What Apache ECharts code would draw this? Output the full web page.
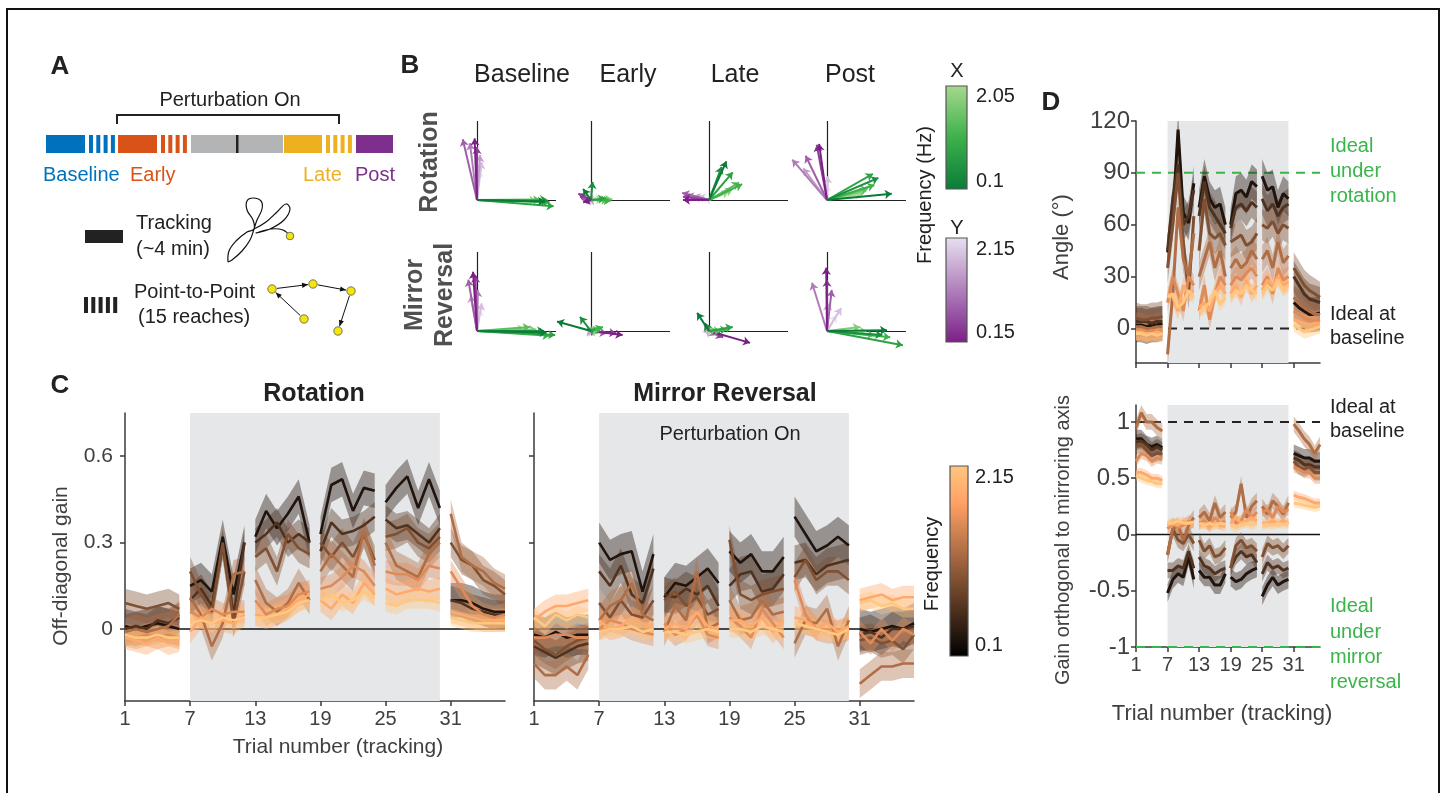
<!DOCTYPE html>
<html lang="en">
<head>
<meta charset="UTF-8">
<title>Tracking gains under rotation and mirror reversal</title>
<style>
  html, body { margin: 0; padding: 0; background: #fff; }
  #main { width: 1444px; height: 793px; }
</style>
</head>
<body>
<div id="main"></div>
<script src="https://cdn.jsdelivr.net/npm/echarts@6.0.0/dist/echarts.min.js"></script>
<script>
// ---- data -----------------------------------------------------------------
// trials 1..36, six blocks of six tracking trials; perturbation on for 7..30
var trials = [1, 2, 3, 4, 5, 6, 7, 8, 9, 10, 11, 12, 13, 14, 15, 16, 17, 18,
              19, 20, 21, 22, 23, 24, 25, 26, 27, 28, 29, 30, 31, 32, 33, 34, 35, 36];
var blockLen = 6;
var tickTrials = [1, 7, 13, 19, 25, 31];
var perturbOn = [7, 30];

// C: off-diagonal gain, rotation (rows = frequency, low -> high)
var rotationGain = [
  [0.01, 0.00, 0.01, 0.02, 0.01, 0.00,  0.15, 0.17, 0.13, 0.32, 0.12, 0.30,  0.32, 0.41, 0.35, 0.40, 0.46, 0.30,  0.33, 0.50, 0.52, 0.41, 0.49, 0.48,  0.44, 0.49, 0.53, 0.42, 0.52, 0.42,  0.10, 0.10, 0.09, 0.07, 0.06, 0.06],
  [0.00, 0.01, 0.00, 0.03, 0.02, 0.04,  0.10, 0.14, 0.08, 0.29, 0.05, 0.30,  0.30, 0.33, 0.37, 0.30, 0.33, 0.30,  0.27, 0.37, 0.33, 0.34, 0.36, 0.39,  0.38, 0.35, 0.36, 0.33, 0.30, 0.35,  0.10, 0.09, 0.07, 0.06, 0.05, 0.05],
  [0.09, 0.08, 0.07, 0.08, 0.09, 0.07,  0.20, 0.12, 0.06, 0.30, 0.02, 0.20,  0.25, 0.28, 0.20, 0.33, 0.28, 0.26,  0.30, 0.25, 0.30, 0.25, 0.33, 0.24,  0.32, 0.33, 0.35, 0.30, 0.28, 0.32,  0.30, 0.24, 0.22, 0.17, 0.15, 0.12],
  [-0.01, 0.00, -0.01, 0.00, 0.01, 0.05, 0.11, 0.05, -0.06, 0.02, 0.19, 0.20, 0.17, 0.09, 0.06, 0.09, 0.16, 0.10,  0.20, 0.26, 0.22, 0.18, 0.34, 0.22,  0.30, 0.22, 0.20, 0.18, 0.26, 0.30,  0.40, 0.25, 0.22, 0.20, 0.16, 0.14],
  [-0.02, -0.03, -0.02, -0.03, -0.02, -0.03, 0.06, 0.04, 0.07, 0.05, 0.06, 0.06, 0.10, 0.05, 0.07, 0.08, 0.12, 0.13, 0.14, 0.15, 0.18, 0.22, 0.20, 0.15, 0.20, 0.19, 0.19, 0.17, 0.22, 0.21, 0.20, 0.14, 0.08, 0.05, 0.04, 0.05],
  [-0.03, -0.04, -0.05, -0.03, -0.05, -0.04, -0.01, 0.04, 0.02, 0.03, 0.02, 0.05, 0.05, 0.04, 0.05, 0.07, 0.10, 0.12, 0.10, 0.07, 0.12, 0.09, 0.16, 0.12, 0.14, 0.12, 0.13, 0.14, 0.13, 0.14, 0.06, 0.05, 0.04, 0.03, 0.03, 0.03],
  [-0.02, -0.03, -0.03, -0.02, -0.03, -0.03, 0.02, 0.03, 0.02, 0.04, 0.03, 0.04, 0.04, 0.04, 0.05, 0.06, 0.09, 0.10, 0.10, 0.12, 0.09, 0.10, 0.13, 0.11, 0.09, 0.08, 0.10, 0.10, 0.10, 0.09, 0.04, 0.03, 0.02, 0.02, 0.02, 0.02]
];
var rotationErr = [0.06, 0.05, 0.05, 0.05, 0.04, 0.04, 0.03];

// C: off-diagonal gain, mirror reversal
var mirrorGain = [
  [-0.02, -0.03, -0.01, -0.03, -0.02, -0.02, 0.30, 0.24, 0.26, 0.27, 0.13, 0.26, 0.11, 0.16, 0.15, 0.18, 0.21, 0.16, 0.27, 0.23, 0.26, 0.20, 0.20, 0.25, 0.39, 0.33, 0.27, 0.29, 0.32, 0.29, 0.00, -0.01, 0.00, 0.01, 0.00, 0.02],
  [-0.06, -0.08, -0.10, -0.08, -0.06, -0.05, 0.20, 0.15, 0.22, 0.12, 0.09, 0.21, 0.12, 0.11, 0.14, 0.12, 0.15, 0.08, 0.15, 0.19, 0.20, 0.13, 0.14, 0.19, 0.23, 0.24, 0.19, 0.22, 0.23, 0.24, -0.02, -0.01, -0.03, 0.00, 0.00, 0.01],
  [-0.04, -0.07, -0.09, -0.06, -0.04, -0.03, 0.09, 0.04, 0.10, 0.05, 0.04, 0.10, 0.10, 0.13, 0.08, 0.11, 0.05, 0.07, 0.31, 0.12, 0.10, 0.12, 0.13, 0.14, 0.18, 0.24, 0.17, 0.20, 0.20, 0.17, -0.04, -0.03, -0.05, -0.04, -0.07, -0.02],
  [-0.12, -0.16, -0.16, -0.13, -0.16, -0.09, 0.03, 0.08, 0.10, 0.16, 0.05, 0.03, -0.01, 0.08, 0.03, 0.20, 0.00, 0.02, 0.10, 0.03, 0.04, 0.10, 0.05, 0.06, -0.05, 0.03, 0.02, 0.07, -0.06, 0.03, -0.19, -0.16, -0.13, -0.13, -0.12, -0.12],
  [-0.03, -0.03, -0.02, -0.02, -0.03, -0.03, 0.00, 0.03, 0.02, 0.00, -0.01, -0.02, 0.02, -0.02, 0.00, 0.05, -0.02, -0.03, 0.04, 0.01, -0.03, 0.07, 0.02, -0.03, 0.17, 0.05, 0.00, -0.01, -0.01, 0.00, -0.01, -0.05, 0.00, -0.04, 0.00, -0.02],
  [0.03, 0.06, 0.08, 0.08, 0.09, 0.10, 0.03, 0.00, 0.01, 0.04, 0.02, 0.00, 0.00, 0.02, 0.00, 0.06, 0.01, 0.00, 0.03, 0.03, 0.01, 0.04, -0.01, 0.03, 0.04, 0.03, 0.00, 0.02, -0.01, 0.01, 0.10, 0.11, 0.12, 0.10, 0.11, 0.11],
  [0.04, 0.01, 0.05, 0.03, 0.05, 0.04, -0.01, 0.00, 0.00, 0.01, -0.01, 0.00, -0.01, -0.01, -0.02, -0.01, 0.00, -0.01, 0.00, 0.00, -0.01, 0.01, 0.00, -0.01, 0.02, 0.01, 0.00, -0.01, -0.02, 0.00, 0.09, 0.10, 0.08, 0.09, 0.07, 0.07]
];
var mirrorErr = [0.07, 0.06, 0.05, 0.05, 0.04, 0.04, 0.03];

// D top: rotation angle (deg)
var rotationAngle = [
  [2, 2, 1, 2, 2, 3,  44, 63, 115, 67, 61, 84,  70, 88, 75, 70, 72, 60,  60, 78, 80, 76, 85, 82,  88, 80, 82, 70, 78, 75,  15, 12, 10, 8, 8, 9],
  [4, 4, 4, 3, 4, 4,  45, 75, 95, 60, 65, 80,  65, 85, 70, 65, 60, 55,  58, 70, 72, 68, 73, 70,  75, 68, 72, 65, 70, 72,  30, 25, 20, 17, 16, 15],
  [6, 5, 5, 6, 6, 7,  35, 60, 90, 50, 20, 65,  45, 75, 55, 52, 55, 48,  50, 52, 54, 48, 50, 55,  60, 58, 62, 55, 60, 58,  35, 30, 25, 22, 20, 18],
  [1, 1, 0, 0, 1, 1,  -15, 20, 70, 40, 30, 55,  30, 40, 50, 35, 45, 30,  35, 40, 35, 38, 45, 40,  40, 45, 35, 50, 38, 42,  18, 15, 12, 10, 8, 8],
  [-1, -1, -2, -1, -2, -1,  15, 30, 20, 10, 30, 25,  10, 25, 5, 20, 30, 25,  25, 30, 28, 32, 35, 30,  25, 30, 20, 35, 28, 30,  10, 8, 6, 5, 4, 5],
  [-2, -2, -3, -3, -2, -3,  20, 18, 10, 25, 20, 22,  12, 15, 10, 20, 25, 20,  20, 25, 18, 28, 20, 25,  22, 28, 25, 30, 25, 27,  5, 4, 3, 2, 3, 3],
  [-3, -3, -4, -3, -4, -3,  18, 20, 12, 15, 22, 18,  10, 12, 15, 22, 14, 18,  18, 22, 20, 25, 22, 20,  20, 25, 22, 28, 22, 25,  2, 0, -2, -1, 0, 1]
];
var angleErr = [10, 9, 9, 8, 6, 5, 4];

// D bottom: gain orthogonal to mirroring axis
var orthoGain = [
  [0.85, 0.85, 0.80, 0.78, 0.80, 0.77, -0.52, -0.40, -0.35, -0.38, -0.20, -0.40, -0.32, -0.38, -0.38, -0.45, -0.45, -0.35, -0.38, -0.42, -0.40, -0.35, -0.32, -0.30, -0.55, -0.45, -0.38, -0.45, -0.42, -0.40, 0.72, 0.70, 0.68, 0.68, 0.65, 0.65],
  [0.82, 0.83, 0.80, 0.75, 0.78, 0.75, -0.32, -0.32, -0.28, -0.30, -0.15, -0.30, -0.20, -0.28, -0.30, -0.35, -0.32, -0.30, -0.30, -0.20, -0.15, -0.20, -0.18, -0.25, -0.35, -0.25, -0.30, -0.28, -0.32, -0.30, 0.68, 0.66, 0.62, 0.62, 0.60, 0.60],
  [0.78, 0.80, 0.75, 0.70, 0.72, 0.72, -0.18, 0.05, -0.05, -0.08, 0.00, -0.08, -0.05, -0.15, -0.10, -0.20, -0.18, -0.12, -0.30, -0.10, -0.05, -0.12, -0.10, -0.15, -0.20, -0.08, -0.12, -0.10, -0.15, -0.10, 0.65, 0.60, 0.58, 0.60, 0.55, 0.55],
  [0.95, 1.08, 1.00, 1.00, 0.95, 0.92, -0.18, 0.05, 0.08, -0.05, 0.08, 0.15, 0.15, 0.20, 0.12, 0.28, 0.15, 0.20, 0.15, 0.20, 0.45, 0.15, 0.25, 0.30, 0.25, 0.18, 0.30, 0.25, 0.18, 0.28, 0.98, 0.92, 0.85, 0.80, 0.72, 0.80],
  [0.65, 0.72, 0.70, 0.65, 0.68, 0.67, 0.05, 0.10, 0.06, 0.08, 0.12, 0.10, 0.10, 0.12, 0.08, 0.15, 0.10, 0.12, 0.20, 0.10, 0.12, 0.22, 0.15, 0.20, 0.20, 0.22, 0.15, 0.25, 0.20, 0.22, 0.60, 0.58, 0.55, 0.55, 0.50, 0.50],
  [0.55, 0.55, 0.53, 0.50, 0.50, 0.48, 0.08, 0.10, 0.08, 0.12, 0.10, 0.10, 0.08, 0.10, 0.06, 0.10, 0.08, 0.07, 0.10, 0.15, 0.10, 0.12, 0.15, 0.12, 0.10, 0.10, 0.12, 0.10, 0.12, 0.10, 0.35, 0.33, 0.32, 0.30, 0.28, 0.28],
  [0.52, 0.50, 0.48, 0.47, 0.45, 0.45, 0.10, 0.10, 0.12, 0.10, 0.10, 0.11, 0.10, 0.08, 0.10, 0.08, 0.10, 0.09, 0.08, 0.06, 0.09, 0.10, 0.08, 0.10, 0.08, 0.09, 0.08, 0.10, 0.09, 0.10, 0.28, 0.27, 0.26, 0.25, 0.24, 0.25]
];
var orthoErr = [0.08, 0.07, 0.07, 0.07, 0.05, 0.04, 0.04];

// B: gain vectors [x, y] per phase (Baseline, Early, Late, Post), frequency low -> high
var phases = ['Baseline', 'Early', 'Late', 'Post'];
var rotationX = [
  [[0.86, -0.02], [0.90, -0.01], [0.97, -0.08], [0.92, -0.03], [0.80, 0.00], [0.88, 0.01], [0.75, 0.00]],
  [[-0.10, 0.14], [0.02, 0.23], [0.18, 0.02], [0.25, -0.01], [0.22, 0.00], [0.27, 0.01], [0.15, 0.01]],
  [[0.22, 0.49], [0.16, 0.42], [0.30, 0.35], [0.42, 0.20], [0.38, 0.22], [0.30, 0.14], [0.25, 0.10]],
  [[0.82, 0.08], [0.65, 0.28], [0.58, 0.33], [0.60, 0.19], [0.52, 0.15], [0.50, 0.12], [0.45, 0.08]]
];
var rotationY = [
  [[-0.03, 0.78], [0.00, 0.67], [-0.18, 0.77], [-0.09, 0.72], [0.04, 0.57], [0.06, 0.48], [0.03, 0.38]],
  [[-0.10, -0.03], [-0.16, 0.08], [-0.14, 0.04], [-0.08, 0.02], [-0.05, 0.00], [-0.03, 0.01], [0.02, 0.00]],
  [[-0.33, 0.00], [-0.33, 0.04], [-0.34, 0.09], [-0.28, 0.06], [-0.20, 0.05], [-0.14, 0.05], [-0.05, 0.02]],
  [[-0.10, 0.71], [-0.13, 0.70], [-0.27, 0.56], [-0.44, 0.51], [-0.30, 0.40], [0.01, 0.30], [0.00, 0.20]]
];
var mirrorX = [
  [[0.88, -0.02], [0.85, 0.00], [0.99, -0.05], [0.92, -0.06], [0.67, 0.05], [0.75, 0.02], [0.60, 0.03]],
  [[-0.43, 0.12], [-0.14, 0.18], [0.05, 0.03], [0.15, 0.05], [0.12, 0.03], [0.08, 0.02], [0.10, 0.02]],
  [[-0.15, 0.23], [-0.05, 0.10], [0.30, 0.05], [0.23, 0.02], [0.15, 0.00], [0.10, 0.02], [0.05, 0.01]],
  [[0.76, 0.01], [0.70, -0.05], [0.96, -0.18], [0.80, -0.08], [0.60, -0.05], [0.42, 0.05], [0.50, 0.00]]
];
var mirrorY = [
  [[-0.05, 0.75], [-0.02, 0.70], [-0.11, 0.65], [0.01, 0.52], [-0.08, 0.45], [0.06, 0.35], [0.04, 0.28]],
  [[0.40, -0.05], [0.32, -0.03], [0.20, -0.03], [0.10, -0.02], [0.03, 0.00], [0.00, 0.02], [0.02, 0.01]],
  [[0.52, -0.15], [0.18, -0.08], [0.10, -0.05], [-0.06, 0.08], [-0.03, 0.04], [0.02, 0.02], [0.01, 0.01]],
  [[-0.01, 0.80], [0.00, 0.65], [0.06, 0.52], [-0.19, 0.61], [0.01, 0.35], [0.18, 0.29], [0.12, 0.20]]
];

// ---- styles ---------------------------------------------------------------
var FONT = 'Arial, "Liberation Sans", Helvetica, sans-serif';
var copper = ['#20140d', '#503220', '#805033', '#af6e46', '#df8b59', '#ffa96c', '#ffc77f'];
var greens = ['#0a7c3a', '#1b8e3f', '#2da244', '#3db14a', '#5cbd62', '#82cb78', '#a8d88e'];
var purples = ['#7b1f87', '#8d3f97', '#a05fa8', '#b07cb8', '#c49ccb', '#d6bedd', '#e6e0f0'];
var AX = '#3a3a3a', LBL = '#404040', GREEN = '#39b54a';

var chart = echarts.init(document.getElementById('main'));

function T(x, y, s, size, o) {
  o = o || {};
  return {
    type: 'text', x: x, y: y, rotation: o.rot || 0, silent: true, z: 50,
    style: {
      text: s, fontSize: size, fontFamily: FONT, fontWeight: o.bold ? 'bold' : 'normal',
      fill: o.color || '#222', align: o.align || 'left', verticalAlign: 'middle'
    }
  };
}
function R(x, y, w, h, fill) {
  return { type: 'rect', silent: true, shape: { x: x, y: y, width: w, height: h }, style: { fill: fill } };
}
function arrowHead(x1, y1, x2, y2) {
  var a = Math.atan2(y2 - y1, x2 - x1), L = 6, W = 2.6;
  var bx = x2 - L * Math.cos(a), by = y2 - L * Math.sin(a);
  return {
    type: 'polygon', silent: true,
    shape: { points: [[x2, y2], [bx - W * Math.sin(a), by + W * Math.cos(a)], [bx + W * Math.sin(a), by - W * Math.cos(a)]] },
    style: { fill: '#111' }
  };
}

// ---- grids ----------------------------------------------------------------
var grids = [
  { left: 125, top: 413, width: 380, height: 288 },   // C rotation
  { left: 534, top: 413, width: 380, height: 288 },   // C mirror
  { left: 1136, top: 121, width: 184, height: 242 },  // D angle
  { left: 1136, top: 405, width: 184, height: 242 }   // D orthogonal gain
];
var xAxes = [], yAxes = [];

function trialAxis(gi, labels) {
  return {
    type: 'value', gridIndex: gi, min: 1, max: 36,
    axisLine: { show: true, onZero: false, lineStyle: { color: AX, width: 1.5 } },
    axisTick: { show: true, customValues: tickTrials, length: 5, lineStyle: { color: AX, width: 1.5 } },
    axisLabel: { show: labels, customValues: tickTrials, fontSize: 20, color: LBL, fontFamily: FONT, margin: 8 },
    splitLine: { show: false }
  };
}
function valAxis(gi, min, max, ticks, labels, size, margin) {
  return {
    type: 'value', gridIndex: gi, min: min, max: max,
    axisLine: { show: true, onZero: false, lineStyle: { color: AX, width: 1.5 } },
    axisTick: { show: true, customValues: ticks, length: 5, lineStyle: { color: AX, width: 1.5 } },
    axisLabel: { show: labels, customValues: ticks, fontSize: size, color: LBL, fontFamily: FONT, margin: margin },
    splitLine: { show: false }
  };
}
xAxes.push(trialAxis(0, true), trialAxis(1, true), trialAxis(2, false), trialAxis(3, true));
yAxes.push(valAxis(0, -0.25, 0.75, [0, 0.3, 0.6], true, 21, 12),
           valAxis(1, -0.25, 0.75, [0, 0.3, 0.6], false, 21, 12),
           valAxis(2, -20, 120, [0, 30, 60, 90, 120], true, 24, 6),
           valAxis(3, -1, 1.15, [-1, -0.5, 0, 0.5, 1], true, 24, 6));

// B subplots: unit vector = 79 px
var U = 79;
var bOriginsX = [477, 591, 709, 827];
var bOriginsY = [200, 331];
var bGridStart = grids.length;
bOriginsY.forEach(function (oy) {
  bOriginsX.forEach(function (ox) {
    var gi = grids.length;
    grids.push({ left: ox - 0.7 * U, top: oy - 1.1 * U, width: 1.9 * U, height: 1.4 * U });
    xAxes.push({ type: 'value', gridIndex: gi, min: -0.7, max: 1.2, show: false });
    yAxes.push({ type: 'value', gridIndex: gi, min: -0.3, max: 1.1, show: false });
  });
});

// ---- series ---------------------------------------------------------------
var series = [];

function shade(gi) {
  series.push({
    type: 'line', xAxisIndex: gi, yAxisIndex: gi, z: 1, silent: true, symbol: 'none',
    data: [[perturbOn[0], 0], [perturbOn[1], 0]], lineStyle: { opacity: 0 },
    markArea: { silent: true, itemStyle: { color: '#e6e7e8', opacity: 1 },
      data: [[{ xAxis: perturbOn[0] }, { xAxis: perturbOn[1] }]] }
  });
}
function refLine(gi, y, color, dashed, width) {
  series.push({
    type: 'line', xAxisIndex: gi, yAxisIndex: gi, z: 2, silent: true, symbol: 'none',
    data: [[trials[0], y], [trials[trials.length - 1], y]],
    lineStyle: { color: color, width: width, type: dashed ? [9, 7] : 'solid' }
  });
}
function bands(vals, errs, gi) {
  var items = [];
  vals.forEach(function (row, k) {
    for (var b = 0; b < trials.length / blockLen; b++) items.push([trials[b * blockLen], row[b * blockLen], k, b]);
  });
  series.push({
    type: 'custom', xAxisIndex: gi, yAxisIndex: gi, z: 3, silent: true, clip: true,
    data: items,
    renderItem: function (params, api) {
      var k = api.value(2), b = api.value(3), up = [], lo = [];
      for (var i = 0; i < blockLen; i++) {
        var t = b * blockLen + i;
        up.push(api.coord([trials[t], vals[k][t] + errs[k]]));
        lo.unshift(api.coord([trials[t], vals[k][t] - errs[k]]));
      }
      var cs = params.coordSys;
      return {
        type: 'polygon', shape: { points: up.concat(lo) },
        style: { fill: copper[k], opacity: 0.4 },
        clipPath: { type: 'rect', shape: { x: cs.x, y: cs.y, width: cs.width, height: cs.height } }
      };
    }
  });
}
function meanLines(vals, gi, width) {
  vals.forEach(function (row, k) {
    var data = [];
    row.forEach(function (v, i) {
      if (i > 0 && i % blockLen === 0) data.push([trials[i] - 0.5, '-']);
      data.push([trials[i], v]);
    });
    series.push({
      type: 'line', xAxisIndex: gi, yAxisIndex: gi, z: 4, silent: true, symbol: 'none',
      data: data, connectNulls: false, lineStyle: { color: copper[k], width: width }
    });
  });
}

// C rotation
shade(0); refLine(0, 0, '#111', false, 1.5);
bands(rotationGain, rotationErr, 0); meanLines(rotationGain, 0, 2.6);
// C mirror
shade(1); refLine(1, 0, '#111', false, 1.5);
bands(mirrorGain, mirrorErr, 1); meanLines(mirrorGain, 1, 2.6);
// D angle
shade(2); refLine(2, 90, GREEN, true, 2); refLine(2, 0, '#222', true, 2);
bands(rotationAngle, angleErr, 2); meanLines(rotationAngle, 2, 3);
// D orthogonal gain
shade(3); refLine(3, 0, '#111', false, 1.5); refLine(3, 1, '#222', true, 2); refLine(3, -1, GREEN, true, 2);
bands(orthoGain, orthoErr, 3); meanLines(orthoGain, 3, 3);

// B vectors
function vecAxes(gi) {
  series.push({
    type: 'lines', coordinateSystem: 'cartesian2d', xAxisIndex: gi, yAxisIndex: gi, z: 2, silent: true,
    symbol: 'none', lineStyle: { color: '#222', width: 1.2, opacity: 1 },
    data: [{ coords: [[0, 0], [1, 0]] }, { coords: [[0, 0], [0, 1]] }]
  });
}
function vecArrows(vecs, colors, gi) {
  var data = vecs.map(function (v, k) {
    return { coords: [[0, 0], v], lineStyle: { color: colors[k], width: 2, opacity: 1 } };
  }).reverse();
  series.push({
    type: 'lines', coordinateSystem: 'cartesian2d', xAxisIndex: gi, yAxisIndex: gi, z: 3, silent: true,
    symbol: ['none', 'arrow'], symbolSize: 7, data: data
  });
}
[[rotationX, rotationY], [mirrorX, mirrorY]].forEach(function (pair, r) {
  phases.forEach(function (p, c) {
    var gi = bGridStart + r * 4 + c;
    vecAxes(gi);
    vecArrows(pair[1][c], purples, gi);
    vecArrows(pair[0][c], greens, gi);
  });
});

// ---- graphic (schematic, labels, colour bars) -----------------------------
var g = [];
// frame
g.push({ type: 'polyline', silent: true, shape: { points: [[7, 793], [7, 9], [1439, 9], [1439, 793]] },
  style: { stroke: '#111', lineWidth: 2, fill: null } });

// panel letters
g.push(T(60, 67, 'A', 26, { bold: true, align: 'center' }));
g.push(T(410, 66, 'B', 26, { bold: true, align: 'center' }));
g.push(T(60, 386, 'C', 26, { bold: true, align: 'center' }));
g.push(T(1051, 103, 'D', 26, { bold: true, align: 'center' }));

// A: session timeline
g.push(T(230, 100, 'Perturbation On', 20, { align: 'center' }));
g.push({ type: 'polyline', silent: true, shape: { points: [[117, 124], [117, 115], [339, 115], [339, 124]] },
  style: { stroke: '#222', lineWidth: 2, fill: null } });
var blue = '#0072bd', red = '#d95319', yellow = '#edb120', purple = '#7e2f8e';
g.push(R(46, 135, 39, 18, blue), R(118, 135, 39, 18, red), R(191, 135, 92, 18, '#b3b4b6'),
       R(284, 135, 38, 18, yellow), R(356, 135, 37, 18, purple), R(236, 135, 2.5, 18, '#222'));
[[89, blue], [161, red], [326, yellow]].forEach(function (s) {
  for (var i = 0; i < 4; i++) g.push(R(s[0] + i * 7.3, 135, 4, 18, s[1]));
});
g.push(T(43, 175, 'Baseline', 20, { color: blue }), T(130, 175, 'Early', 20, { color: red }),
       T(303, 175, 'Late', 20, { color: yellow }), T(355, 175, 'Post', 20, { color: purple }));
// A: legend
g.push(R(85, 230, 38, 13, '#222'));
for (var i = 0; i < 5; i++) g.push(R(84 + i * 7.3, 297, 4, 16, '#222'));
g.push(T(136, 223, 'Tracking', 20), T(136, 249, '(~4 min)', 20),
       T(134, 292, 'Point-to-Point', 20), T(138, 317, '(15 reaches)', 20));
// tracking scribble: lower leaf, upper loop, right loop and tail
g.push({ type: 'polyline', silent: true, shape: { smooth: 0.4, points: [[228, 262], [229, 251], [236, 241], [247, 232], [254, 229], [253, 220], [247, 210], [247, 201], [253, 198], [261, 201], [262, 209], [257, 220], [254, 229], [250, 240], [242, 251], [232, 260], [228, 262]] },
  style: { stroke: '#111', lineWidth: 1.2, fill: null } });
g.push({ type: 'polyline', silent: true, shape: { smooth: 0.4, points: [[254, 229], [266, 222], [278, 211], [286, 204], [290, 209], [284, 220], [270, 229], [256, 233], [271, 229], [283, 230], [290, 236]] },
  style: { stroke: '#111', lineWidth: 1.2, fill: null } });
g.push({ type: 'circle', silent: true, shape: { cx: 290, cy: 236, r: 3.8 }, style: { fill: '#f5e50a', stroke: '#555', lineWidth: 0.8 } });
var dots = [[304, 319], [272, 289], [313, 284], [351, 291], [338, 331]];
for (var j = 0; j < dots.length - 1; j++) {
  var p = dots[j], q = dots[j + 1];
  var d = Math.hypot(q[0] - p[0], q[1] - p[1]);
  var ux = (q[0] - p[0]) / d, uy = (q[1] - p[1]) / d;
  var s0 = [p[0] + ux * 5, p[1] + uy * 5], s1 = [q[0] - ux * 5, q[1] - uy * 5];
  g.push({ type: 'line', silent: true, shape: { x1: s0[0], y1: s0[1], x2: s1[0], y2: s1[1] }, style: { stroke: '#111', lineWidth: 1 } });
  g.push(arrowHead(s0[0], s0[1], s1[0], s1[1]));
}
dots.forEach(function (p) {
  g.push({ type: 'circle', silent: true, shape: { cx: p[0], cy: p[1], r: 4.2 }, style: { fill: '#f5e50a', stroke: '#555', lineWidth: 0.8 } });
});

// B: titles and colour bars
g.push(T(522, 75, 'Baseline', 25, { align: 'center' }), T(628, 75, 'Early', 25, { align: 'center' }),
       T(735, 75, 'Late', 25, { align: 'center' }), T(850, 75, 'Post', 25, { align: 'center' }));
g.push(T(430, 162, 'Rotation', 25, { bold: true, rot: Math.PI / 2, align: 'center', color: '#505050' }));
g.push(T(415, 295, 'Mirror', 25, { bold: true, rot: Math.PI / 2, align: 'center', color: '#505050' }));
g.push(T(445, 295, 'Reversal', 25, { bold: true, rot: Math.PI / 2, align: 'center', color: '#505050' }));
function cbar(x, y, w, h, stops) {
  return { type: 'rect', silent: true, shape: { x: x, y: y, width: w, height: h },
    style: { fill: new echarts.graphic.LinearGradient(0, 0, 0, 1, stops), stroke: '#555', lineWidth: 1.2 } };
}
g.push(cbar(946, 86, 21, 103, [{ offset: 0, color: '#a8d88e' }, { offset: 0.5, color: '#3db14a' }, { offset: 1, color: '#0a7c3a' }]));
g.push(cbar(946, 238, 21, 104, [{ offset: 0, color: '#e6e0f0' }, { offset: 1, color: '#7b1f87' }]));
g.push(T(957, 71, 'X', 20, { align: 'center' }), T(976, 96, '2.05', 20), T(976, 181, '0.1', 20),
       T(957, 228, 'Y', 20, { align: 'center' }), T(976, 249, '2.15', 20), T(976, 332, '0.15', 20));
g.push(T(925, 195, 'Frequency (Hz)', 20, { rot: Math.PI / 2, align: 'center' }));

// C: labels
g.push(T(314, 394, 'Rotation', 25, { bold: true, align: 'center' }));
g.push(T(725, 394, 'Mirror Reversal', 25, { bold: true, align: 'center' }));
g.push(T(730, 434, 'Perturbation On', 20, { align: 'center' }));
g.push(T(61, 566, 'Off-diagonal gain', 21, { rot: Math.PI / 2, align: 'center', color: LBL }));
g.push(T(338, 747, 'Trial number (tracking)', 21, { align: 'center', color: LBL }));
g.push(cbar(950, 466, 18, 190, [{ offset: 0, color: '#ffc77f' }, { offset: 0.2, color: '#ffa064' }, { offset: 1, color: '#000000' }]));
g.push(T(975, 477, '2.15', 20), T(975, 645, '0.1', 20));
g.push(T(932, 564, 'Frequency', 20, { rot: Math.PI / 2, align: 'center' }));

// D: labels
g.push(T(1062, 237, 'Angle (°)', 22, { rot: Math.PI / 2, align: 'center', color: LBL }));
g.push(T(1063, 540, 'Gain orthogonal to mirroring axis', 20, { rot: Math.PI / 2, align: 'center', color: LBL }));
g.push(T(1222, 714, 'Trial number (tracking)', 22, { align: 'center', color: LBL }));
g.push(T(1330, 146, 'Ideal', 20, { color: GREEN }), T(1330, 171, 'under', 20, { color: GREEN }),
       T(1330, 196, 'rotation', 20, { color: GREEN }));
g.push(T(1330, 314, 'Ideal at', 20), T(1330, 338, 'baseline', 20));
g.push(T(1330, 407, 'Ideal at', 20), T(1330, 431, 'baseline', 20));
g.push(T(1330, 606, 'Ideal', 20, { color: GREEN }), T(1330, 632, 'under', 20, { color: GREEN }),
       T(1330, 657, 'mirror', 20, { color: GREEN }), T(1330, 682, 'reversal', 20, { color: GREEN }));

chart.setOption({
  animation: false,
  backgroundColor: '#ffffff',
  textStyle: { fontFamily: FONT },
  grid: grids,
  xAxis: xAxes,
  yAxis: yAxes,
  series: series,
  graphic: { elements: g }
});
</script>
</body>
</html>
